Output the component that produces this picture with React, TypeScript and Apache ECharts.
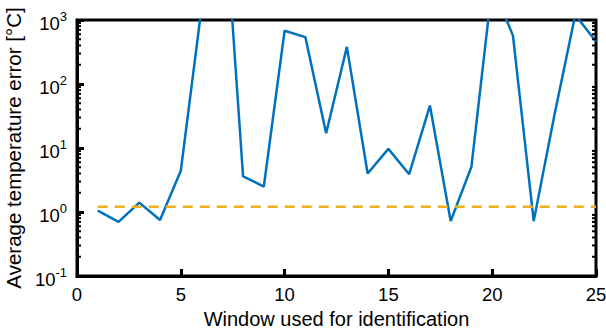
import React, { useEffect, useRef } from "react";
import * as echarts from "echarts";

const windows = [1, 2, 3, 4, 5, 6, 7, 8, 9, 10, 11, 12, 13, 14, 15, 16, 17, 18, 19, 20, 21, 22, 23, 24, 25];
const errors = [1.05, 0.7, 1.4, 0.75, 4.4, 1550, 180000, 3.6, 2.5, 680, 540, 17, 380, 4.0, 9.7, 3.9, 46, 0.72, 5.1, 3500, 570, 0.72, 33, 1200, 460];
const thresholdX = [1, 25];
const thresholdY = [1.21, 1.21];
const decades = [0.1, 1, 10, 100];
const minorMultipliers = [2, 3, 4, 5, 6, 7, 8, 9];

const FONT = "'Liberation Sans', Arial, sans-serif";
const BLACK = "#000000";
const FRAME = "#000000";

export default function App() {
  const ref = useRef<HTMLDivElement>(null);
  useEffect(() => {
    if (!ref.current) return;
    const chart = echarts.init(ref.current, null, { renderer: "svg" });
    const minorData: number[][] = [];
    decades.forEach((d) => minorMultipliers.forEach((m) => minorData.push([0, d * m])));
    chart.setOption({
      animation: false,
      grid: {
        left: 77,
        right: 10,
        top: 20,
        bottom: 52,
        containLabel: false,
        outerBoundsMode: "none",
        show: true,
        borderColor: FRAME,
        borderWidth: 3,
      },
      xAxis: [
        {
          type: "value",
          min: 0,
          max: 25,
          interval: 5,
          name: "Window used for identification",
          nameLocation: "middle",
          nameGap: 22,
          nameTextStyle: { fontFamily: FONT, fontSize: 20, color: BLACK },
          splitLine: { show: false },
          axisLine: { show: true, onZero: false, lineStyle: { color: FRAME, width: 3 } },
          axisTick: { show: true, inside: true, length: 7, lineStyle: { color: FRAME, width: 3 } },
          axisLabel: { fontFamily: FONT, fontSize: 18.5, color: BLACK, margin: 9 },
        },
      ],
      yAxis: [
        {
          type: "log",
          logBase: 10,
          min: 0.1,
          max: 1000,
          interval: 1,
          splitLine: { show: false },
          axisLine: { show: true, onZero: false, lineStyle: { color: FRAME, width: 3 } },
          axisTick: { show: true, inside: true, length: 7, lineStyle: { color: FRAME, width: 3 } },
          minorTick: { show: false },
          name: "Average temperature error [°C]",
          nameLocation: "middle",
          nameGap: 50,
          nameTextStyle: { fontFamily: FONT, fontSize: 20.5, color: BLACK },
          axisLabel: {
            margin: 10,
            formatter: (v: number) => `{b|10}{s|${Math.round(Math.log10(v))}}`,
            rich: {
              b: { fontFamily: FONT, fontSize: 18.5, color: BLACK, padding: [6, 0, 0, 0] },
              s: { fontFamily: FONT, fontSize: 13, color: BLACK, padding: [0, 0, 8, 0] },
            },
          },
        },
      ],
      series: [
        {
          type: "line",
          data: windows.map((w, i) => [w, errors[i]]),
          symbol: "none",
          lineStyle: { color: "#0072BD", width: 2.5 },
          itemStyle: { color: "#0072BD" },
          clip: true,
          z: 3,
        },
        {
          type: "line",
          data: thresholdX.map((x, i) => [x, thresholdY[i]]),
          symbol: "none",
          lineStyle: { color: "#EDB120", width: 2.5, type: [10, 7] },
          itemStyle: { color: "#EDB120" },
          z: 4,
        },
        {
          type: "custom",
          silent: true,
          clip: false,
          data: minorData,
          encode: { x: 0, y: 1 },
          renderItem: (params: any, api: any) => {
            const y = api.coord([0, api.value(1)])[1];
            const cs = params.coordSys;
            const isMid = Math.abs(api.value(1) / Math.pow(10, Math.floor(Math.log10(api.value(1)) + 1e-9)) - 1) < 1e-6;
            const len = isMid ? 7 : 4;
            return {
              type: "group",
              children: [
                { type: "line", shape: { x1: cs.x, y1: y, x2: cs.x + len, y2: y }, style: { stroke: FRAME, lineWidth: 2 } },
                { type: "line", shape: { x1: cs.x + cs.width, y1: y, x2: cs.x + cs.width - len, y2: y }, style: { stroke: FRAME, lineWidth: 2 } },
              ],
            };
          },
          z: 5,
        },
      ],
    });
    return () => chart.dispose();
  }, []);
  return <div ref={ref} style={{ position: "fixed", left: 0, top: 0, width: 606, height: 328, background: "#fff" }} />;
}
